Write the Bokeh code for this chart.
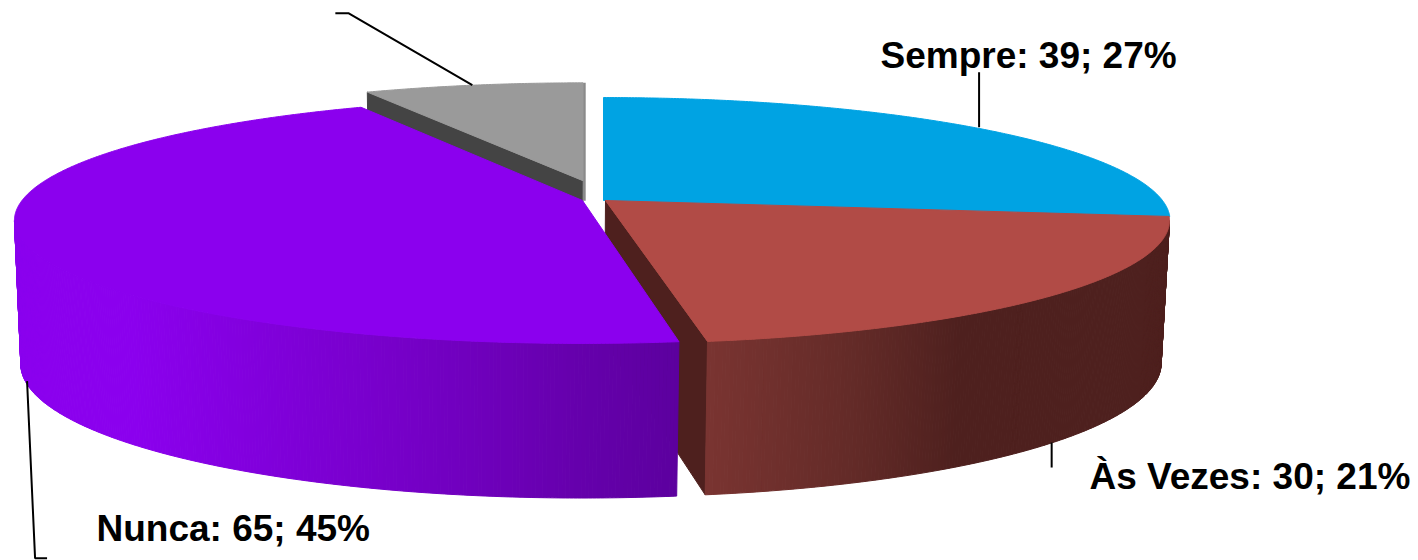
import numpy as np
from bokeh.embed import file_html
from bokeh.models import Range1d
from bokeh.plotting import figure
from bokeh.resources import INLINE
from bokeh.core.properties import value as fixed

categories = ["Sempre", "Às Vezes", "Nunca", "Outros"]
values = [39, 30, 65, 10]
percents = [27, 21, 45, 7]

top_colors = ["#00a3e3", "#b14b46", "#8b00ee", "#9a9a9a"]

W, H = 1418, 560
CY = 200.0
RY, K = 119.7, 0.1626
RX = [559.0, 556.5, 560.5, 559.0]
APEX_X = [603.0, 605.0, 582.0, 582.5]
EXPLODE = [0.0, 0.0, 0.0, 0.17]
NUDGE = [0.0, 0.0, -1.0, -1.9, 0.0]
RED_END_EXTRA, NUNCA_START_EXTRA = -0.35, 0.2
DEPTH = [141.0, 141.0, 142.0, 140.0]
XSCALE, YSCALE, XSHIFT = 0.987, 1.088, -1.0

total = sum(values)
edges = np.concatenate([[0.0], np.cumsum(values) / total * 360.0]) + np.array(NUDGE)
starts = list(edges[:-1])
ends = list(edges[1:])
ends[1] += RED_END_EXTRA
starts[2] += NUNCA_START_EXTRA


def top_point(i, clock_deg, r=1.0):
    t = np.radians(90.0 - np.asarray(clock_deg, dtype=float))
    u = r * np.cos(t)
    v = r * np.sin(t) + EXPLODE[i]
    d = 1 + K * v
    return APEX_X[i] + RX[i] * u / d, CY - RY * v / d


def bottom_point(i, x, y):
    return APEX_X[i] + XSHIFT + XSCALE * (x - APEX_X[i]), CY + DEPTH[i] + YSCALE * (y - CY)


def top_slice(i):
    a_deg = np.linspace(starts[i], ends[i], max(int(abs(ends[i] - starts[i]) * 3), 8))
    x, y = top_point(i, a_deg)
    ax, ay = top_point(i, 0.0, 0.0)
    return np.r_[ax, x], np.r_[ay, y]


def shade(x, stops_x, stops_rgb):
    rgb = [np.interp(x, stops_x, [c[j] for c in stops_rgb]) for j in range(3)]
    return "#%02x%02x%02x" % tuple(int(round(c)) for c in rgb)


p = figure(width=W, height=H, x_range=Range1d(0, W), y_range=Range1d(H, 0),
           output_backend="svg", toolbar_location=None, min_border=0,
           outline_line_color=None)
p.axis.visible = False
p.grid.visible = False

# grey slice: its cut wall, then its top, then the thin end wall
ax, ay = top_point(3, 0.0, 0.0)
lx, ly = top_point(3, starts[3])
bax, bay = bottom_point(3, ax, ay)
blx, bly = bottom_point(3, lx, ly)
p.patch([ax, lx, blx, bax], [ay, ly, bly, bay], fill_color="#444444", line_color="#444444")
rx, ry = top_point(3, 360.0)
p.line([rx + 1.2, rx + 1.2], [ry, ay + 20], line_color="#8a8a8a", line_width=3)
x, y = top_slice(3)
p.patch(x, y, fill_color=top_colors[3], line_color=top_colors[3])

# blue top
x, y = top_slice(0)
p.patch(x, y, fill_color=top_colors[0], line_color=top_colors[0])

# red inner wall
ax, ay = top_point(1, 0.0, 0.0)
ex, ey = top_point(1, ends[1])
bax, bay = bottom_point(1, ax, ay)
bex, bey = bottom_point(1, ex, ey)
p.patch([ax, ex, bex, bax], [ay, ey, bey, bay], fill_color="#4e201e", line_color="#4e201e")


def side(i, a, b, stops_x, stops_rgb):
    deg = np.linspace(a, b, int(abs(b - a) * 3) + 2)
    xs, ys, cols = [], [], []
    for d0, d1 in zip(deg[:-1], deg[1:]):
        x0, y0 = top_point(i, d0)
        x1, y1 = top_point(i, d1)
        bx0, by0 = bottom_point(i, x0, y0)
        bx1, by1 = bottom_point(i, x1, y1)
        xs.append([x0, x1, bx1, bx0])
        ys.append([y0, y1, by1, by0])
        cols.append(shade((x0 + x1) / 2, stops_x, stops_rgb))
    p.patches(xs, ys, fill_color=cols, line_color=cols, line_width=1)


SILH = np.degrees(np.arcsin(K))
side(1, 90.0 + SILH, ends[1], [705, 850, 960], [(122, 52, 49), (100, 43, 40), (78, 32, 30)])
x, y = top_slice(1)
p.patch(x, y, fill_color=top_colors[1], line_color=top_colors[1])

side(2, starts[2], 270.0 - SILH, [130, 400, 570, 680], [(139, 0, 238), (118, 0, 200), (102, 0, 173), (92, 0, 158)])
x, y = top_slice(2)
p.patch(x, y, fill_color=top_colors[2], line_color=top_colors[2])

# leader lines start at the middle of each slice's rim
LW = 2
mids = [(edges[i] + edges[i + 1]) / 2 for i in range(4)]
sx, sy = top_point(0, mids[0])
p.line([sx - 4, sx - 4], [sy - 2, sy - 57], line_color="black", line_width=LW)
tx, ty = bottom_point(1, *top_point(1, mids[1]))
p.line([tx + 5, tx + 5], [ty - 2, ty + 23], line_color="black", line_width=LW)
nx, ny = bottom_point(2, *top_point(2, mids[2]))
p.line([nx, nx + 8, nx + 20], [ny - 3, ny + 174, ny + 174], line_color="black", line_width=LW)
gx, gy = top_point(3, mids[3])
p.line([gx - 1, gx - 125, gx - 138], [gy, gy - 72, gy - 72], line_color="black", line_width=LW)

label_x = [880, 1089, 96]
label_y = [55, 476, 528]
labels = [f"{categories[i]}: {values[i]}; {percents[i]}%" for i in range(3)]
p.text(label_x, label_y, text=labels, text_font=fixed("Liberation Sans"), text_font_style="bold",
       text_font_size="37px", text_color="black", text_align="left", text_baseline="middle")

open("out.html", "w").write(file_html(p, INLINE))
